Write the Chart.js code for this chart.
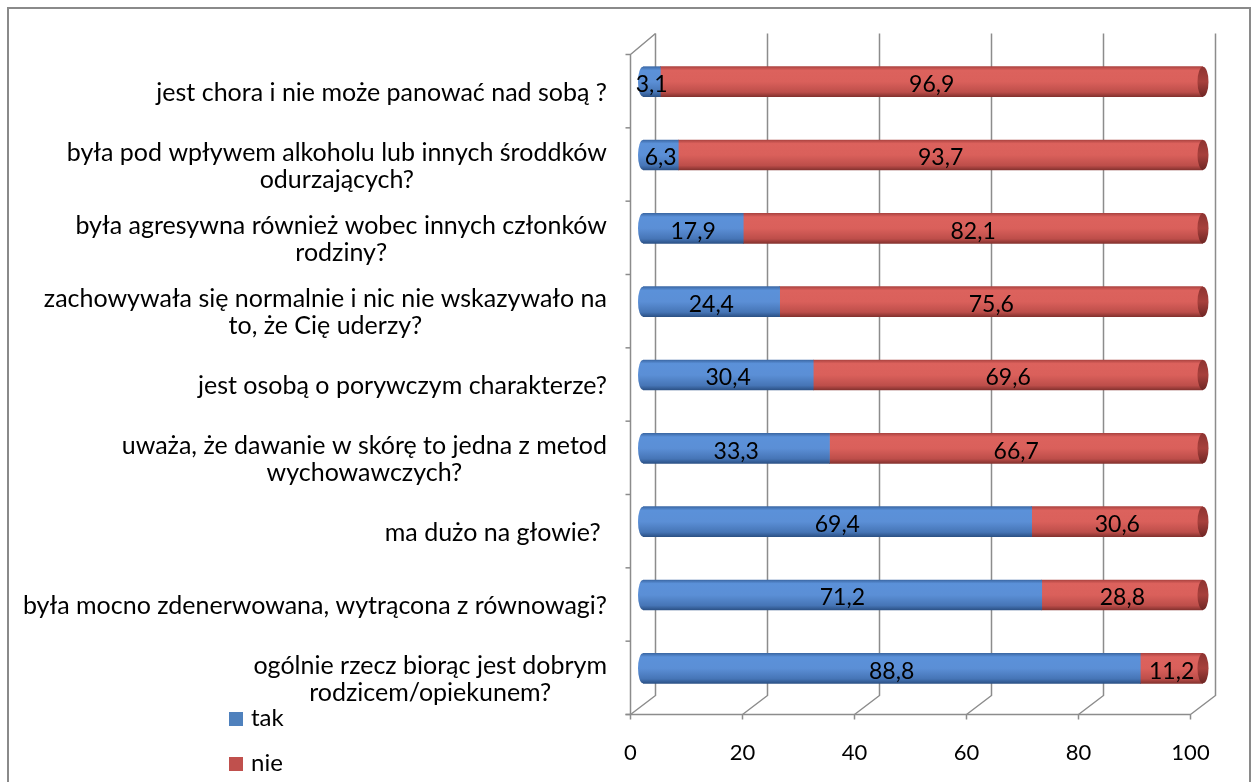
<!DOCTYPE html>
<html>
<head>
<meta charset="utf-8">
<script src="https://cdn.jsdelivr.net/npm/chart.js@4"></script>
<style>
  html, body { margin: 0; padding: 0; background: #fff; }
  #wrap { position: relative; width: 1255px; height: 782px; overflow: hidden; font-family: Lato, "Open Sans", sans-serif; }
  #frame { position: absolute; left: 7px; top: 7px; width: 1240px; height: 800px; border: 2px solid #8a8a8a; }
  canvas { position: absolute; left: 0; top: 0; }
  .legend { position: absolute; left: 229px; font-size: 24px; color: #000; line-height: 28px; }
  .legend span { display: inline-block; width: 14px; height: 14px; margin-right: 8px; vertical-align: 0px; }
</style>
</head>
<body>
<div id="wrap">
  <div id="frame"></div>
  <canvas id="chart" width="1255" height="782"></canvas>
  <div class="legend" style="top:703px"><span style="background:#4f81bd"></span>tak</div>
  <div class="legend" style="top:748px"><span style="background:#c0504d"></span>nie</div>
</div>
<script>
const categories = [
  ['jest chora i nie może panować nad sobą ?'],
  ['była pod wpływem alkoholu lub innych środdków', 'odurzających?'],
  ['była agresywna również wobec innych członków', 'rodziny?'],
  ['zachowywała się normalnie i nic nie wskazywało na', 'to, że Cię uderzy?'],
  ['jest osobą o porywczym charakterze?'],
  ['uważa, że dawanie w skórę to jedna z metod', 'wychowawczych?'],
  ['ma dużo na głowie? '],
  ['była mocno zdenerwowana, wytrącona z równowagi?'],
  ['ogólnie rzecz biorąc jest dobrym', 'rodzicem/opiekunem?']
];
const takValues = [3.1, 6.3, 17.9, 24.4, 30.4, 33.3, 69.4, 71.2, 88.8];
const nieValues = [96.9, 93.7, 82.1, 75.6, 69.6, 66.7, 30.6, 28.8, 11.2];
const xTicks = [0, 20, 40, 60, 80, 100];

const FONT = 'Lato, "Open Sans", sans-serif';
const DEPTH_X = 12.5, DEPTH_Y = 9.5;
const blueStops = [[0, '#3c69a6'], [0.12, '#5b91d9'], [0.5, '#5b8fd6'], [0.85, '#4675b6'], [1, '#2c5287']];
const redStops = [[0, '#ad4441'], [0.12, '#dc625d'], [0.5, '#da605b'], [0.85, '#bd4e4a'], [1, '#85322f']];

function makeGradient(ctx, c, stops) {
  const g = ctx.createLinearGradient(0, c - 15, 0, c + 15);
  stops.forEach(s => g.addColorStop(s[0], s[1]));
  return g;
}

function barGradient(stops) {
  return function (ctx) {
    const chart = ctx.chart;
    const y = chart.scales && chart.scales.y;
    if (!chart.chartArea || !y) return stops[2][1];
    return makeGradient(chart.ctx, y.getPixelForValue(ctx.dataIndex), stops);
  };
}

// 3D-looking walls, floor and grid lines drawn behind the bars
const framePlugin = {
  id: 'frame3d',
  beforeDatasetsDraw(chart) {
    const { ctx, chartArea, scales } = chart;
    const x = scales.x;
    const backTop = chartArea.top - DEPTH_Y - 2;
    const backBottom = chartArea.bottom - DEPTH_Y;
    const front = chartArea.bottom + DEPTH_Y;
    ctx.save();
    ctx.strokeStyle = '#8c8c8c';
    ctx.lineWidth = 1.5;
    xTicks.forEach(v => {
      const p = x.getPixelForValue(v);
      ctx.beginPath();
      ctx.moveTo(p + DEPTH_X, backTop);
      ctx.lineTo(p + DEPTH_X, backBottom);
      ctx.lineTo(p - DEPTH_X, front);
      ctx.lineTo(p - DEPTH_X, front + 5);
      ctx.stroke();
    });
    const x0 = x.getPixelForValue(0) - DEPTH_X;
    ctx.beginPath();
    ctx.moveTo(x0 - 5, front);
    ctx.lineTo(x.getPixelForValue(100) - DEPTH_X, front);
    ctx.stroke();
    ctx.beginPath();
    ctx.moveTo(x0, front);
    ctx.lineTo(x0, chartArea.top + DEPTH_Y);
    ctx.lineTo(x0 + 2 * DEPTH_X, chartArea.top - DEPTH_Y - 2);
    ctx.stroke();
    const step = (chartArea.bottom - chartArea.top) / categories.length;
    for (let i = 0; i <= categories.length; i++) {
      const ty = chartArea.top + DEPTH_Y + i * step;
      ctx.beginPath();
      ctx.moveTo(x0 - 5, ty);
      ctx.lineTo(x0, ty);
      ctx.stroke();
    }
    ctx.restore();
  }
};

// cylinder ends, value labels and category labels
const labelPlugin = {
  id: 'labels3d',
  afterDatasetsDraw(chart) {
    const { ctx, chartArea, scales } = chart;
    ctx.save();
    chart.getDatasetMeta(0).data.forEach(el => {
      ctx.fillStyle = makeGradient(ctx, el.y, blueStops);
      ctx.beginPath();
      ctx.ellipse(el.base, el.y, 5, 15, 0, Math.PI / 2, Math.PI * 1.5);
      ctx.fill();
    });
    chart.getDatasetMeta(1).data.forEach(el => {
      ctx.fillStyle = makeGradient(ctx, el.y, [[0, '#8e3431'], [0.5, '#a7403c'], [1, '#6e2624']]);
      ctx.beginPath();
      ctx.ellipse(el.x, el.y, 5.5, 15, 0, 0, Math.PI * 2);
      ctx.fill();
    });
    ctx.fillStyle = '#000';
    ctx.font = '23px ' + FONT;
    ctx.textAlign = 'center';
    ctx.textBaseline = 'middle';
    chart.data.datasets.forEach((ds, di) => {
      chart.getDatasetMeta(di).data.forEach((el, i) => {
        const cx = (el.x + el.base) / 2;
        ctx.fillText(String(ds.data[i]).replace('.', ','), cx, el.y + 3);
      });
    });
    // category labels: block right aligned, lines centred
    ctx.font = '25px ' + FONT;
    const right = chartArea.left - 36;
    const lineH = 27;
    categories.forEach((lines, i) => {
      const cy = scales.y.getPixelForValue(i) + 11;
      const w = Math.max(...lines.map(l => ctx.measureText(l).width));
      const cx = right - w / 2;
      const y0 = cy - (lines.length - 1) * lineH / 2;
      lines.forEach((l, k) => ctx.fillText(l, cx, y0 + k * lineH));
    });
    ctx.restore();
  }
};

new Chart(document.getElementById('chart'), {
  type: 'bar',
  data: {
    labels: categories,
    datasets: [{
      label: 'tak',
      data: takValues,
      backgroundColor: barGradient(blueStops),
      borderSkipped: false,
      barThickness: 30
    }, {
      label: 'nie',
      data: nieValues,
      backgroundColor: barGradient(redStops),
      borderSkipped: false,
      barThickness: 30
    }]
  },
  options: {
    indexAxis: 'y',
    responsive: false,
    animation: false,
    layout: { padding: { left: 0, right: 52, top: 45, bottom: 0 } },
    plugins: { legend: { display: false }, tooltip: { enabled: false } },
    scales: {
      x: {
        stacked: true,
        min: 0,
        max: 100,
        afterFit(scale) { scale.height = 77; },
        afterBuildTicks(scale) { scale.ticks = xTicks.map(v => ({ value: v })); },
        grid: { display: false },
        border: { display: false },
        ticks: { font: { family: FONT, size: 22 }, color: '#000', padding: 27, labelOffset: -12.5 }
      },
      y: {
        stacked: true,
        afterFit(scale) { scale.width = 643; },
        grid: { display: false },
        border: { display: false },
        ticks: { display: false }
      }
    }
  },
  plugins: [framePlugin, labelPlugin]
});
</script>
</body>
</html>
